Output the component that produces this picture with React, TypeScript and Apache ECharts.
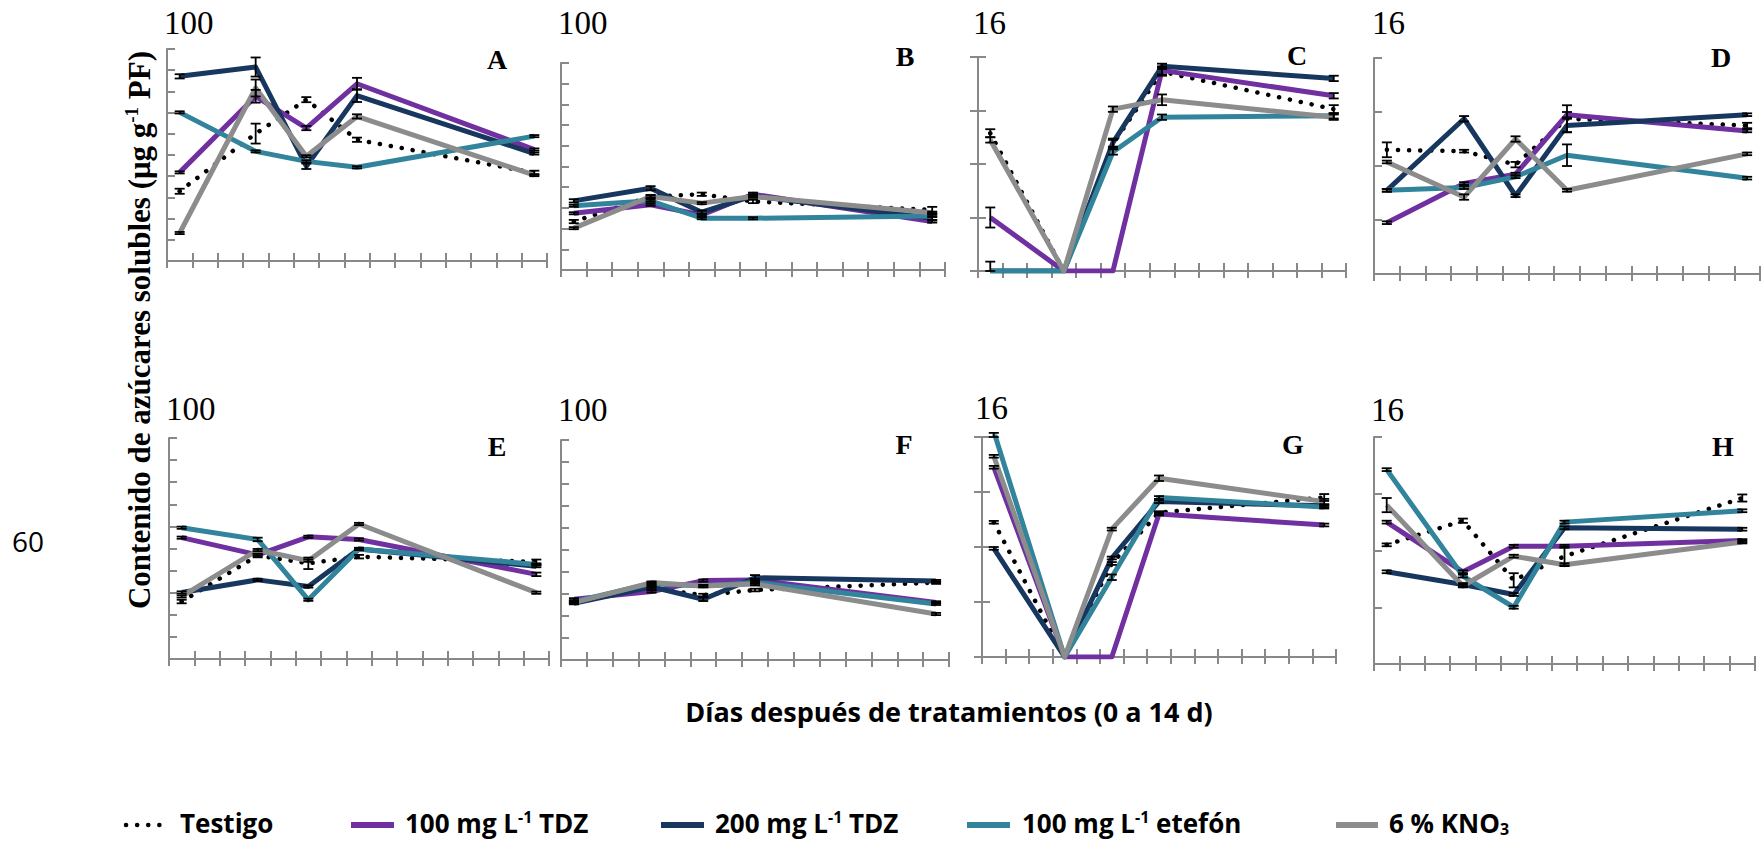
import React, { useEffect, useRef } from 'react';
import * as echarts from 'echarts';

// ---------------- data ----------------
const categories = ['0', '1', '2', '3', '4', '5', '6', '7', '8', '9', '10', '11', '12', '13', '14'];
const sampleDays = [0, 3, 5, 7, 14];
const seriesNames = ['Testigo', '100 mg L-1 TDZ', '200 mg L-1 TDZ', '100 mg L-1 etefón', '6 % KNO3'];
const legendLabels = ['Testigo', '100 mg L{sup|-1} TDZ', '200 mg L{sup|-1} TDZ', '100 mg L{sup|-1} etefón', '6 % KNO{sub|3}'];
const seriesColors = ['#000000', '#7030A0', '#17375E', '#31849B', '#8C8C8C'];

const panelLetters = ['A', 'B', 'C', 'D', 'E', 'F', 'G', 'H'];
const panelMax = [100, 100, 16, 16, 100, 100, 16, 16];
const panelInterval = [10, 10, 4, 4, 10, 10, 4, 4];
const panelTopLabels = ['100', '100', '16', '16', '100', '100', '16', '16'];

// rows: Testigo, 100 TDZ, 200 TDZ, etefón, KNO3 ; columns: days 0, 3, 5, 7, 14
const valuesA = [
  [32.9, 60.1, 76.1, 57.2, 41.6],
  [41.8, 77.7, 62.7, 83.6, 52.6],
  [87.1, 91.5, 44.7, 78.0, 50.7],
  [70.1, 51.7, 47.0, 44.2, 58.9],
  [13.2, 81.6, 49.4, 68.2, 40.5],
];
const valuesB = [
  [23.4, 35.5, 36.6, 33.1, 29.0],
  [27.4, 31.5, 26.6, 36.6, 23.4],
  [33.4, 39.5, 27.9, 35.8, 25.0],
  [31.0, 33.4, 25.0, 25.0, 26.1],
  [20.2, 35.5, 32.3, 35.5, 27.7],
];
const valuesC = [
  [10.3, 0, 9.5, 14.9, 12.1],
  [4.0, 0, 0, 15.0, 13.1],
  [0, 0, 9.6, 15.3, 14.4],
  [0, 0, 8.9, 11.5, 11.6],
  [9.8, 0, 12.1, 12.8, 11.5],
];
const valuesD = [
  [9.2, 9.1, 8.1, 11.5, 11.0],
  [3.8, 6.7, 7.4, 11.8, 10.6],
  [6.2, 11.5, 5.8, 11.0, 11.8],
  [6.2, 6.4, 7.2, 8.8, 7.1],
  [8.3, 5.7, 10.0, 6.2, 8.9],
];
const valuesE = [
  [26.0, 46.8, 43.3, 46.3, 44.0],
  [54.9, 47.1, 55.3, 54.1, 38.3],
  [30.1, 35.8, 32.8, 49.8, 42.0],
  [59.4, 54.1, 26.8, 49.8, 42.8],
  [28.3, 49.3, 44.5, 61.1, 30.0],
];
const valuesF = [
  [26.5, 32.6, 29.5, 31.8, 35.2],
  [27.6, 31.1, 36.1, 36.4, 26.2],
  [25.8, 33.3, 27.6, 37.4, 35.9],
  [26.5, 34.8, 33.6, 35.2, 25.5],
  [26.1, 35.2, 33.6, 34.5, 20.9],
];
const valuesG = [
  [9.8, 0, 6.8, 10.5, 11.6],
  [13.8, 0, 0, 10.4, 9.6],
  [7.9, 0, 7.2, 11.3, 11.0],
  [16.4, 0, 5.8, 11.6, 10.9],
  [14.6, 0, 9.3, 13.0, 11.3],
];
const valuesH = [
  [8.4, 10.1, 5.9, 7.6, 11.7],
  [10.0, 6.5, 8.3, 8.3, 8.7],
  [6.5, 5.6, 4.9, 9.6, 9.5],
  [13.7, 6.2, 4.0, 10.0, 10.8],
  [11.2, 5.5, 7.6, 7.0, 8.6],
];

// standard errors (same layout)
const errA = [
  [1.2, 4.7, 1.2, 1.0, 1.0],
  [0.5, 3.0, 1.0, 2.8, 0.5],
  [1.0, 4.5, 1.3, 3.0, 0.5],
  [0.5, 0.5, 0.5, 0.5, 0.5],
  [0.5, 4.0, 0.5, 1.0, 0.5],
];
const errB = [
  [0.8, 0.8, 0.8, 0.8, 1.5],
  [0.5, 0.5, 0.5, 0.8, 0.5],
  [0.8, 1.0, 0.8, 0.8, 0.8],
  [0.5, 0.5, 0.5, 0.5, 0.5],
  [0.5, 0.5, 0.5, 0.5, 0.5],
];
const errC = [
  [0.3, 0, 0.3, 0.3, 0.3],
  [0.75, 0, 0, 0.3, 0.2],
  [0, 0, 0.3, 0.2, 0.2],
  [0.7, 0, 0.2, 0.2, 0.2],
  [0.2, 0, 0.2, 0.4, 0.2],
];
const errD = [
  [0.55, 0.1, 0.2, 1.0, 0.2],
  [0.1, 0.1, 0.1, 0.2, 0.1],
  [0.1, 0.2, 0.1, 0.5, 0.1],
  [0.1, 0.1, 0.1, 0.8, 0.1],
  [0.1, 0.2, 0.2, 0.1, 0.1],
];
const errE = [
  [0.8, 0.8, 2.6, 0.8, 1.0],
  [0.5, 0.5, 0.5, 0.5, 0.8],
  [0.5, 0.5, 0.5, 0.5, 0.5],
  [0.5, 0.8, 0.5, 0.5, 0.5],
  [0.5, 0.5, 0.5, 0.5, 0.5],
];
const errF = [
  [0.6, 0.6, 0.6, 0.6, 0.6],
  [0.5, 0.5, 0.5, 0.5, 0.5],
  [0.5, 0.5, 0.8, 1.2, 0.5],
  [0.5, 0.5, 0.5, 0.5, 0.5],
  [0.5, 0.5, 0.5, 0.5, 0.5],
];
const errG = [
  [0.1, 0, 0.1, 0.1, 0.25],
  [0.1, 0, 0, 0.1, 0.1],
  [0.1, 0, 0.1, 0.1, 0.1],
  [0.1, 0, 0.2, 0.1, 0.1],
  [0.1, 0, 0.1, 0.2, 0.2],
];
const errH = [
  [0.1, 0.15, 0.5, 0.65, 0.25],
  [0.1, 0.1, 0.1, 0.1, 0.1],
  [0.1, 0.1, 0.1, 0.1, 0.1],
  [0.1, 0.1, 0.1, 0.1, 0.1],
  [0.5, 0.1, 0.1, 0.1, 0.1],
];

const panelValues = [valuesA, valuesB, valuesC, valuesD, valuesE, valuesF, valuesG, valuesH];
const panelErrors = [errA, errB, errC, errD, errE, errF, errG, errH];

// ---------------- layout ----------------
const boxes = [
  { left: 167, top: 49, right: 547, bottom: 261, crossY: false },
  { left: 561, top: 63, right: 945, bottom: 270, crossY: false },
  { left: 978, top: 57, right: 1346, bottom: 271, crossY: true },
  { left: 1374, top: 58, right: 1760, bottom: 274, crossY: false },
  { left: 169, top: 438, right: 549, bottom: 659, crossY: false },
  { left: 561, top: 440, right: 949, bottom: 660, crossY: false },
  { left: 982, top: 437, right: 1336, bottom: 657, crossY: true },
  { left: 1374, top: 437, right: 1755, bottom: 664, crossY: false },
];
const letterPos = [
  [497, 59], [905, 56], [1297, 55], [1721, 57],
  [497, 446], [904, 444], [1293, 444], [1723, 446],
];
const topLabelPos = [
  [164, 23], [558, 23], [973, 23], [1372, 23],
  [166, 409], [558, 410], [975, 408], [1371, 410],
];
const legendPos = [
  { x1: 126, x2: 170, tx: 180 },
  { x1: 351, x2: 394, tx: 405 },
  { x1: 661, x2: 704, tx: 715 },
  { x1: 967, x2: 1010, tx: 1022 },
  { x1: 1336, x2: 1378, tx: 1389 },
];

const AXIS = '#888888';
const SERIF = '"Liberation Serif", "Times New Roman", serif';
const SANS = '"Open Sans", "Noto Sans", sans-serif';
const LEGEND_Y = 823;

function buildOption() {
  const grid: any[] = [];
  const xAxis: any[] = [];
  const yAxis: any[] = [];
  const series: any[] = [];
  const graphic: any[] = [];

  boxes.forEach((b, i) => {
    grid.push({ left: b.left, top: b.top, width: b.right - b.left, height: b.bottom - b.top });
    const xMain = xAxis.length;
    xAxis.push({
      gridIndex: i, type: 'category', data: categories, boundaryGap: true, position: 'bottom',
      axisLine: { show: true, lineStyle: { color: AXIS, width: 2 } },
      axisTick: { show: true, inside: true, length: 8, interval: 0, lineStyle: { color: AXIS, width: 2 } },
      axisLabel: { show: false, interval: 0 }, splitLine: { show: false },
    });
    xAxis.push({
      gridIndex: i, type: 'category', data: categories, boundaryGap: true, position: 'bottom',
      axisLine: { show: false },
      axisTick: { show: true, inside: false, length: 7, interval: 0, lineStyle: { color: AXIS, width: 2 } },
      axisLabel: { show: false, interval: 0 }, splitLine: { show: false },
    });
    const yMain = yAxis.length;
    yAxis.push({
      gridIndex: i, type: 'value', min: 0, max: panelMax[i], interval: panelInterval[i], position: 'left',
      axisLine: { show: true, lineStyle: { color: AXIS, width: 2 } },
      axisTick: { show: true, inside: true, length: 8, lineStyle: { color: AXIS, width: 2 } },
      axisLabel: { show: false }, splitLine: { show: false },
    });
    if (b.crossY) {
      yAxis.push({
        gridIndex: i, type: 'value', min: 0, max: panelMax[i], interval: panelInterval[i], position: 'left',
        axisLine: { show: false },
        axisTick: { show: true, inside: false, length: 8, lineStyle: { color: AXIS, width: 2 } },
        axisLabel: { show: false }, splitLine: { show: false },
      });
    }
    const vals = panelValues[i];
    const errs = panelErrors[i];
    const max = panelMax[i];
    vals.forEach((row, s) => {
      const full = categories.map((_, k) => {
        const j = sampleDays.indexOf(k);
        return j >= 0 ? row[j] : '-';
      });
      const isDot = s === 0;
      series.push({
        type: 'line', name: seriesNames[s], xAxisIndex: xMain, yAxisIndex: yMain,
        data: full, connectNulls: true, symbol: 'none', silent: true, z: 2 + s,
        lineStyle: isDot
          ? { color: '#000', width: 4.5, type: [0.1, 11], cap: 'round' }
          : { color: seriesColors[s], width: 5, cap: 'butt', join: 'round' },
      });
    });
    vals.forEach((row, s) => {
      const edata = sampleDays.map((d, j) => [d, row[j], errs[s][j]]);
      series.push({
        type: 'custom', xAxisIndex: xMain, yAxisIndex: yMain, silent: true, z: 10,
        data: edata, encode: { x: 0, y: 1 },
        renderItem: (params: any, api: any) => {
          const x = api.value(0);
          const v = api.value(1);
          const e = api.value(2);
          if (!e) return null;
          const hi = Math.min(max, v + e);
          const lo = Math.max(0, v - e);
          const p1 = api.coord([x, hi]);
          const p2 = api.coord([x, lo]);
          const h = 5;
          const st = { stroke: '#000', lineWidth: 1.8 };
          return {
            type: 'group',
            children: [
              { type: 'line', shape: { x1: p1[0], y1: p1[1], x2: p2[0], y2: p2[1] }, style: st },
              { type: 'line', shape: { x1: p1[0] - h, y1: p1[1], x2: p1[0] + h, y2: p1[1] }, style: st },
              { type: 'line', shape: { x1: p2[0] - h, y1: p2[1], x2: p2[0] + h, y2: p2[1] }, style: st },
            ],
          };
        },
      });
    });

    graphic.push({
      type: 'text', x: letterPos[i][0], y: letterPos[i][1], silent: true,
      style: { text: panelLetters[i], fontFamily: SERIF, fontWeight: 'bold', fontSize: 28, fill: '#000', align: 'center', verticalAlign: 'middle' },
    });
    graphic.push({
      type: 'text', x: topLabelPos[i][0], y: topLabelPos[i][1], silent: true,
      style: { text: panelTopLabels[i], fontFamily: SERIF, fontSize: 33, fill: '#000', align: 'left', verticalAlign: 'middle' },
    });
  });

  // y-axis title
  graphic.push({
    type: 'text', x: 139, y: 330, rotation: Math.PI / 2, silent: true,
    style: {
      text: 'Contenido de azúcares solubles (μg g{sup|-1} PF)',
      fontFamily: SERIF, fontWeight: 'bold', fontSize: 31, lineHeight: 34, fill: '#000',
      align: 'center', verticalAlign: 'middle',
      rich: { sup: { fontFamily: SERIF, fontWeight: 'bold', fontSize: 19, lineHeight: 18, verticalAlign: 'top', fill: '#000' } },
    },
  });
  // x-axis title
  graphic.push({
    type: 'text', x: 949, y: 711, silent: true,
    style: {
      text: 'Días después de tratamientos (0 a 14 d)', fontFamily: SANS, fontWeight: 'bold', fontSize: 27,
      fill: '#000', align: 'center', verticalAlign: 'middle',
    },
  });
  // stray label
  graphic.push({
    type: 'text', x: 12, y: 541, silent: true,
    style: { text: '60', fontFamily: SANS, fontSize: 28, fill: '#000', align: 'left', verticalAlign: 'middle' },
  });

  // legend
  legendPos.forEach((p, s) => {
    const isDot = s === 0;
    graphic.push({
      type: 'line', silent: true,
      shape: { x1: p.x1, y1: LEGEND_Y + 2, x2: p.x2, y2: LEGEND_Y + 2 },
      style: isDot
        ? { stroke: '#000', lineWidth: 4.5, lineDash: [0.1, 11], lineCap: 'round' }
        : { stroke: seriesColors[s], lineWidth: 6 },
    });
    graphic.push({
      type: 'text', x: p.tx, y: LEGEND_Y, silent: true,
      style: {
        text: legendLabels[s], fontFamily: SANS, fontWeight: 'bold', fontSize: 26, lineHeight: 28, fill: '#000',
        align: 'left', verticalAlign: 'middle',
        rich: {
          sup: { fontFamily: SANS, fontWeight: 'bold', fontSize: 16, lineHeight: 14, verticalAlign: 'top', fill: '#000' },
          sub: { fontFamily: SANS, fontWeight: 'bold', fontSize: 16, lineHeight: 14, verticalAlign: 'bottom', fill: '#000' },
        },
      },
    });
  });

  return {
    animation: false,
    backgroundColor: '#ffffff',
    grid, xAxis, yAxis, series, graphic,
  };
}

export default function App() {
  const ref = useRef<HTMLDivElement>(null);
  useEffect(() => {
    document.body.style.margin = '0';
    if (!ref.current) return;
    const chart = echarts.init(ref.current, undefined, { renderer: 'svg' });
    chart.setOption(buildOption());
    return () => chart.dispose();
  }, []);
  return <div ref={ref} style={{ width: 1764, height: 841 }} />;
}
